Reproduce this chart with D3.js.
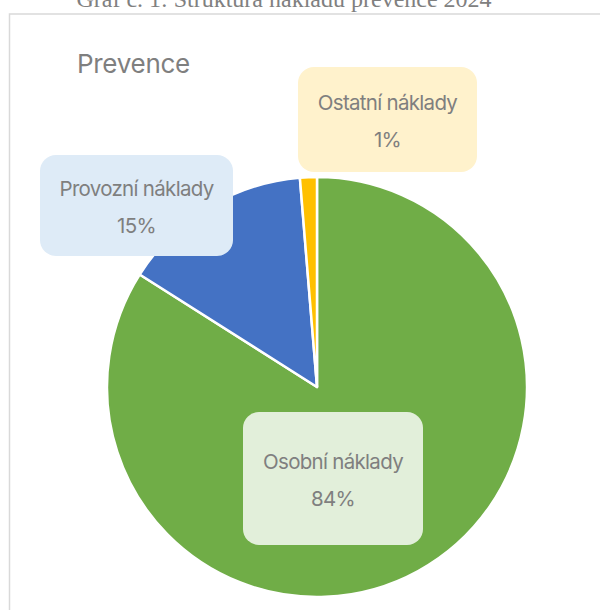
<!DOCTYPE html>
<html><head><meta charset="utf-8">
<script src="https://cdn.jsdelivr.net/npm/d3@7"></script>
<style>body{margin:0;background:#fff}svg{display:block}</style>
</head><body>
<svg id="c" width="600" height="610"></svg>
<script>
const categories = ["Osobní náklady", "Provozní náklady", "Ostatní náklady"];
const values = [84.0, 14.7, 1.3];
const labels = ["84%", "15%", "1%"];
const colors = ["#70ad47", "#4472c4", "#ffc000"];
const boxFills = ["#e2efda", "#deebf7", "#fff2cc"];

const svg = d3.select("#c");
// caption (cut off at top, as in the source)
svg.append("text").attr("x", 284).attr("y", 7).attr("text-anchor", "middle")
  .attr("font-family", "Liberation Serif, Times New Roman, serif").attr("font-size", 24)
  .attr("fill", "#808080").text("Graf č. 1: Struktura nákladů prevence 2024");
// chart border
svg.append("rect").attr("x", 9.5).attr("y", 14).attr("width", 620).attr("height", 620)
  .attr("fill", "#fff").attr("stroke", "#d9d9d9").attr("stroke-width", 1.5);
svg.append("text").attr("x", 77).attr("y", 73)
  .attr("font-family", "Inter, sans-serif").attr("font-size", 26).attr("fill", "#7f7f7f")
  .attr("letter-spacing", -0.3).text("Prevence");

const cx = 317, cy = 387, R = 210;
const pie = d3.pie().sort(null).value(d => d)(values);
const arc = d3.arc().innerRadius(0).outerRadius(R);
const g = svg.append("g").attr("transform", `translate(${cx},${cy})`);
g.selectAll("path").data(pie).join("path")
  .attr("d", arc).attr("fill", (d, i) => colors[i])
  .attr("stroke", "#fff").attr("stroke-width", 2.5).attr("stroke-linejoin", "round");

const boxes = [
  {x: 243, y: 412, w: 180, h: 133},
  {x: 40, y: 155, w: 193, h: 101},
  {x: 298, y: 67, w: 179, h: 105}
];
boxes.forEach((b, i) => {
  svg.append("rect").attr("x", b.x).attr("y", b.y).attr("width", b.w).attr("height", b.h)
    .attr("rx", 16).attr("fill", boxFills[i]);
  const mx = b.x + b.w / 2, my = b.y + b.h / 2;
  svg.append("text").attr("x", mx).attr("y", my - 10).attr("text-anchor", "middle")
    .attr("font-family", "Inter, sans-serif").attr("font-size", 20.5).attr("fill", "#7f7f7f")
    .attr("letter-spacing", -0.7).text(categories[i]);
  svg.append("text").attr("x", mx).attr("y", my + 27).attr("text-anchor", "middle")
    .attr("font-family", "Inter, sans-serif").attr("font-size", 20.5).attr("fill", "#7f7f7f")
    .attr("letter-spacing", -0.7).text(labels[i]);
});
</script>
</body></html>
